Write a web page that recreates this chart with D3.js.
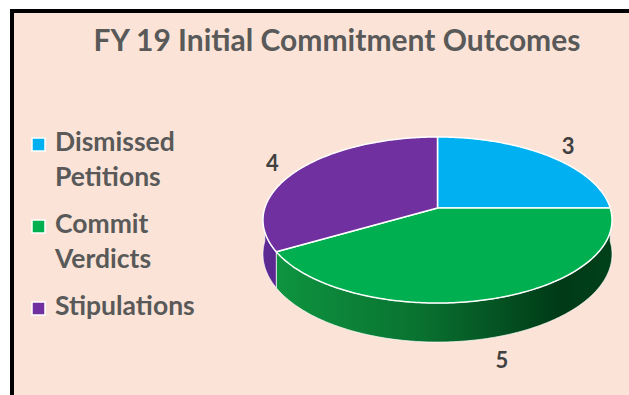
<!DOCTYPE html>
<html>
<head>
<meta charset="utf-8">
<script src="https://cdn.jsdelivr.net/npm/d3@7"></script>
<style>
  html, body { margin: 0; padding: 0; background: #fff; }
  #chart { width: 629px; height: 395px; }
  text { font-family: Lato, "Open Sans", sans-serif; font-weight: bold; }
</style>
</head>
<body>
<div id="chart"></div>
<script>
// Chart data
const title = 'FY 19 Initial Commitment Outcomes';
const categories = ['Dismissed Petitions', 'Commit Verdicts', 'Stipulations'];
const legendLines = [['Dismissed', 'Petitions'], ['Commit', 'Verdicts'], ['Stipulations']];
const values = [3, 5, 4];
const colors = ['#00b0f0', '#00b050', '#7030a0'];

const width = 629;
const height = 395;

const svg = d3.select('#chart')
  .append('svg')
  .attr('width', width)
  .attr('height', height);

// Gradients for the pie's outer wall
const defs = svg.append('defs');

// Background and frame
svg.append('rect')
  .attr('width', width)
  .attr('height', height)
  .attr('fill', '#ffffff');

svg.append('rect')
  .attr('x', 12)
  .attr('y', 11)
  .attr('width', 700)
  .attr('height', 500)
  .attr('fill', '#fbe4d7')
  .attr('stroke', '#000000')
  .attr('stroke-width', 4);

// Title
svg.append('text')
  .attr('x', 337)
  .attr('y', 51)
  .attr('text-anchor', 'middle')
  .attr('fill', '#595959')
  .attr('font-size', '30px')
  .text(title);

// Legend
const color = d3.scaleOrdinal().domain(categories).range(colors);
const lineHeight = 35;
let legendY = 151;
categories.forEach((cat, i) => {
  const g = svg.append('g');
  g.append('rect')
    .attr('x', 32)
    .attr('y', legendY - 13)
    .attr('width', 13)
    .attr('height', 13)
    .attr('fill', color(cat))
    .attr('stroke', '#ffffff')
    .attr('stroke-width', 1.5);
  legendLines[i].forEach((line, j) => {
    g.append('text')
      .attr('x', 55)
      .attr('y', legendY + j * lineHeight)
      .attr('fill', '#595959')
      .attr('font-size', '26.5px')
      .text(line);
  });
  legendY += legendLines[i].length * lineHeight + 12;
});

// 3D pie: perspective projection of a tilted disc
const cx = 437.5;
const cy = 208;      // projected centre of the disc
const A = 172.7;     // horizontal radius factor
const B = 81.3;      // vertical radius factor
const k = 0.1445;    // perspective strength
const depth = 33.4;  // thickness of the disc

function project(a, r = 1, drop = 0) {
  const u = r * Math.sin(a);
  const v = -r * Math.cos(a);
  const w = 1 - k * v;
  const wEdge = 1 + k * Math.cos(a);
  return [cx + A * u / w, cy + B * v / w + drop / wEdge];
}

function arcPoints(a0, a1, drop) {
  const n = Math.max(2, Math.ceil((a1 - a0) / 0.01));
  return d3.range(n + 1).map(i => project(a0 + (a1 - a0) * i / n, 1, drop));
}

const arcs = d3.pie().sort(null).value(d => d)(values);
const line = d3.line();

const sideColors = [
  ['#0a6fa0', '#064e73'],
  ['#0f9741', '#003a17'],
  ['#5c2a92', '#3f1a6a']
];

arcs.forEach((d, i) => {
  const grad = defs.append('linearGradient')
    .attr('id', `side-${i}`)
    .attr('gradientUnits', 'userSpaceOnUse')
    .attr('x1', cx - A * 1.01)
    .attr('x2', cx + A * 1.01)
    .attr('y1', 0)
    .attr('y2', 0);
  grad.append('stop').attr('offset', '0%').attr('stop-color', sideColors[i][0]);
  grad.append('stop').attr('offset', '45%').attr('stop-color', d3.interpolateRgb(sideColors[i][0], sideColors[i][1])(0.4));
  grad.append('stop').attr('offset', '85%').attr('stop-color', sideColors[i][1]);
  grad.append('stop').attr('offset', '100%').attr('stop-color', d3.color(sideColors[i][1]).brighter(0.3));
});

// Outer wall (front half only)
const sides = svg.append('g');
arcs.forEach((d, i) => {
  const s0 = Math.max(d.startAngle, Math.PI / 2);
  const s1 = Math.min(d.endAngle, 3 * Math.PI / 2);
  if (s1 <= s0) return;
  const pts = arcPoints(s0, s1, 0).concat(arcPoints(s0, s1, depth).reverse());
  sides.append('path')
    .attr('d', line(pts) + 'Z')
    .attr('fill', `url(#side-${i})`)
    .attr('stroke', 'rgba(255,255,255,0.7)')
    .attr('stroke-width', 1);
});

// Top face
const tops = svg.append('g');
arcs.forEach((d, i) => {
  const pts = [[cx, cy]].concat(arcPoints(d.startAngle, d.endAngle, 0));
  tops.append('path')
    .attr('d', line(pts) + 'Z')
    .attr('fill', color(categories[i]))
    .attr('stroke', '#ffffff')
    .attr('stroke-width', 1.5)
    .attr('stroke-linejoin', 'round');
});

// Data labels
arcs.forEach((d, i) => {
  const mid = (d.startAngle + d.endAngle) / 2;
  const front = -Math.cos(mid) > 0;
  const [x, y] = project(mid, 1.2, front ? depth : 0);
  svg.append('text')
    .attr('x', x)
    .attr('y', y)
    .attr('text-anchor', 'middle')
    .attr('dy', '0.36em')
    .attr('fill', '#404040')
    .attr('font-size', '22px')
    .text(d.data);
});
</script>
</body>
</html>
